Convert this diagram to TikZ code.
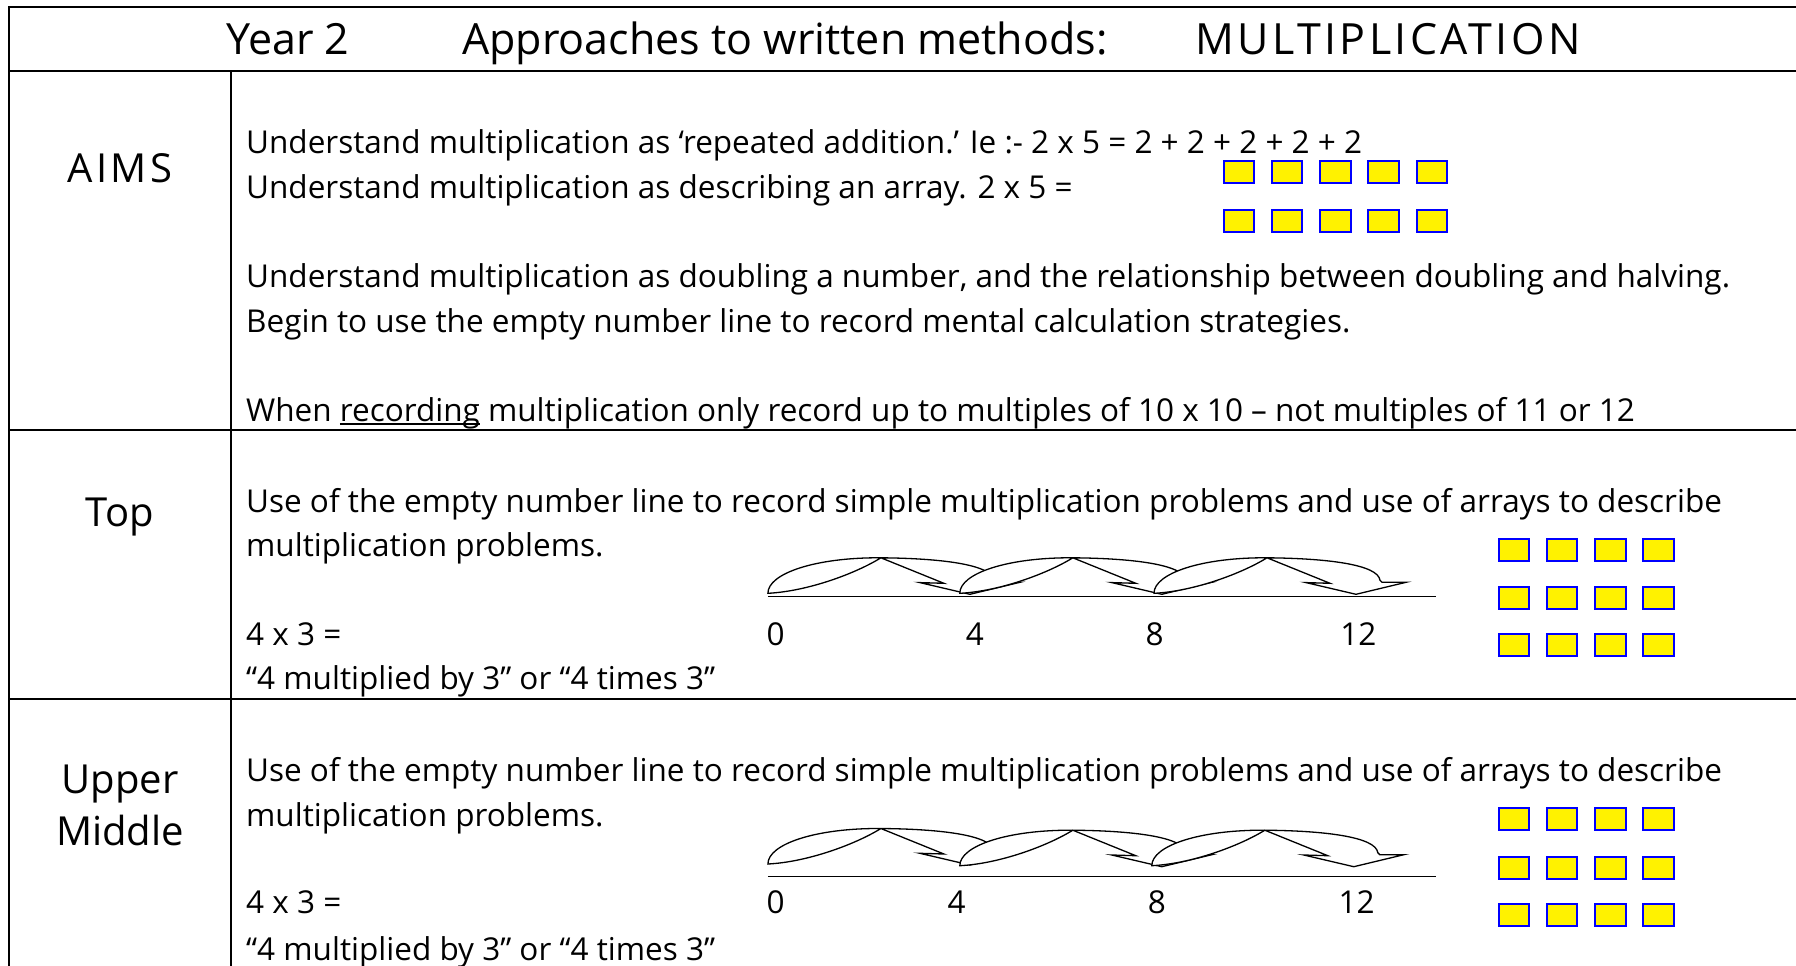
\documentclass[tikz,border=0pt]{standalone}
\usepackage{fontspec}
\setmainfont{Open Sans}
\usetikzlibrary{positioning}

% underline with a rule that scales with the big text
\newcommand\undr[1]{\setbox0\hbox{#1}\rlap{\rule[-3.5pt]{\wd0}{1.6pt}}\box0\relax}
% wider capitals
\newcommand\widecaps[1]{{\addfontfeature{LetterSpace=8}#1}}

\tikzset{
  frame/.style={line width=1.4pt},
  txt/.style={anchor=base west, inner sep=0pt, font=\fontsize{31.5}{44.6}\selectfont},
  head/.style={anchor=base west, inner sep=0pt, font=\fontsize{43}{52}\selectfont},
  rowname/.style={anchor=base, inner sep=0pt, font=\fontsize{40}{52}\selectfont},
  num/.style={anchor=base, inner sep=0pt, font=\fontsize{31.5}{44.6}\selectfont},
  numline/.style={line width=1.5pt},
  arraybox/.style={draw=blue, fill=yellow, line width=2pt, minimum width=30.5pt,
                   minimum height=22pt, inner sep=0pt},
  jump/.pic={
    \draw[line width=1.3pt, fill=white]
      (0,0) .. controls (0,-20) and (48,-36) .. (113,-35.5)
      .. controls (172,-35) and (224,-29) .. (226,-13)
      -- (228,-11) -- (252,-11) -- (202,1) -- (152,-10.7) -- (176,-10) -- (113,-35.5)
      .. controls (88,-20) and (40,-2) .. (0,0) -- cycle;
  }
}

\begin{document}
\begin{tikzpicture}[x=1pt,y=-1pt,node distance=48.3pt,on grid]
\useasboundingbox (0,0) rectangle (1796,966);

% table
\draw[frame] (1796,7) -- (9,7) -- (9,966);
\draw[frame] (9,71) -- (1796,71);
\draw[frame] (231,71) -- (231,966);
\draw[frame] (9,430) -- (1796,430);
\draw[frame] (9,699) -- (1796,699);

% heading
\node[head] (year)  at (226,55)  {Year 2};
\node[head] (title) at (462,55)  {Approaches to written methods:};
\node[head] (op)    at (1195,55) {\widecaps{MULTIPLICATION}};

% row names
\node[rowname] (aims)   at (120,182) {\widecaps{AIMS}};
\node[rowname] (top)    at (120,526) {Top};
\node[rowname] (upper)  at (120,793) {Upper};
\node[rowname] (middle) at (120,845) {Middle};

% aims
\node[txt] (aim1) at (246,153.5) {Understand multiplication as ‘repeated addition.’ Ie :- 2 x 5 = 2 + 2 + 2 + 2 + 2};
\node[txt] (aim2) at (246,198)   {Understand multiplication as describing an array. 2 x 5 =};
\node[txt] (aim3) at (246,287.5) {Understand multiplication as doubling a number, and the relationship between doubling and halving.};
\node[txt] (aim4) at (246,332)   {Begin to use the empty number line to record mental calculation strategies.};
\node[txt] (aim5) at (246,421.5) {When \undr{recording} multiplication only record up to multiples of 10 x 10 – not multiples of 11 or 12};

% 2 x 5 array
\node[arraybox] (a11) at (1238.8,172) {};
\node[arraybox] (a12) [right=of a11] {};
\node[arraybox] (a13) [right=of a12] {};
\node[arraybox] (a14) [right=of a13] {};
\node[arraybox] (a15) [right=of a14] {};
\node[arraybox] (a21) at (1238.8,220.7) {};
\node[arraybox] (a22) [right=of a21] {};
\node[arraybox] (a23) [right=of a22] {};
\node[arraybox] (a24) [right=of a23] {};
\node[arraybox] (a25) [right=of a24] {};

% top group
\node[txt] (top1) at (246,512)   {Use of the empty number line to record simple multiplication problems and use of arrays to describe};
\node[txt] (top2) at (246,556.7) {multiplication problems.};
\node[txt] (top3) at (246,645)   {4 x 3 =};
\node[txt] (top4) at (246,689.5) {“4 multiplied by 3” or “4 times 3”};

\coordinate (t0) at (767.9,593.3);
\coordinate (t4) at (959.8,593.3);
\coordinate (t8) at (1154,593.3);
\coordinate (tend) at (1436,596.7);
\draw[numline] (t0 |- tend) -- (tend);
\pic at (t0) {jump};
\pic at (t4) {jump};
\pic at (t8) {jump};
\node[num] (tn0)  at (775.7,645)  {0};
\node[num] (tn4)  at (974.8,645)  {4};
\node[num] (tn8)  at (1154.7,645) {8};
\node[num] (tn12) at (1358.3,645) {12};

\node[arraybox] (b11) at (1513.8,549.5) {};
\node[arraybox] (b12) [right=of b11] {};
\node[arraybox] (b13) [right=of b12] {};
\node[arraybox] (b14) [right=of b13] {};
\node[arraybox] (b21) at (1513.8,598) {};
\node[arraybox] (b22) [right=of b21] {};
\node[arraybox] (b23) [right=of b22] {};
\node[arraybox] (b24) [right=of b23] {};
\node[arraybox] (b31) at (1513.8,645) {};
\node[arraybox] (b32) [right=of b31] {};
\node[arraybox] (b33) [right=of b32] {};
\node[arraybox] (b34) [right=of b33] {};

% upper middle group
\node[txt] (mid1) at (246,781) {Use of the empty number line to record simple multiplication problems and use of arrays to describe};
\node[txt] (mid2) at (246,826) {multiplication problems.};
\node[txt] (mid3) at (246,913) {4 x 3 =};
\node[txt] (mid4) at (246,960) {“4 multiplied by 3” or “4 times 3”};

\coordinate (m0) at (767.9,864);
\coordinate (m4) at (959.8,865.7);
\coordinate (m8) at (1151.8,865.7);
\coordinate (mend) at (1436,876.7);
\draw[numline] (m0 |- mend) -- (mend);
\pic at (m0) {jump};
\pic at (m4) {jump};
\pic at (m8) {jump};
\node[num] (mn0)  at (775.7,913)  {0};
\node[num] (mn4)  at (956.5,913)  {4};
\node[num] (mn8)  at (1156.9,913) {8};
\node[num] (mn12) at (1356.5,913) {12};

\node[arraybox] (c11) at (1513.8,818.7) {};
\node[arraybox] (c12) [right=of c11] {};
\node[arraybox] (c13) [right=of c12] {};
\node[arraybox] (c14) [right=of c13] {};
\node[arraybox] (c21) at (1513.8,867.5) {};
\node[arraybox] (c22) [right=of c21] {};
\node[arraybox] (c23) [right=of c22] {};
\node[arraybox] (c24) [right=of c23] {};
\node[arraybox] (c31) at (1513.8,914.7) {};
\node[arraybox] (c32) [right=of c31] {};
\node[arraybox] (c33) [right=of c32] {};
\node[arraybox] (c34) [right=of c33] {};
\end{tikzpicture}
\end{document}
